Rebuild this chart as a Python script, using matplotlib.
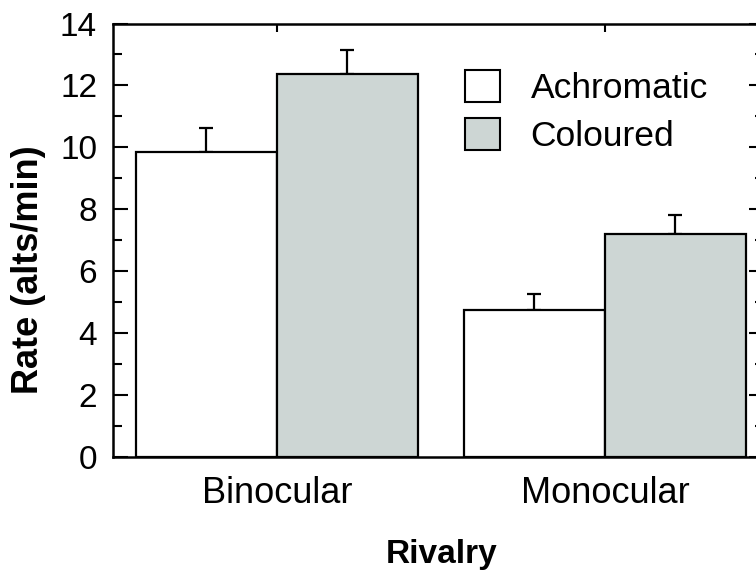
import matplotlib
matplotlib.use("Agg")
import matplotlib.pyplot as plt
import numpy as np
from matplotlib.ticker import MultipleLocator

plt.rcParams['font.family'] = ['Liberation Sans', 'DejaVu Sans']

groups = ["Binocular", "Monocular"]
series = ["Achromatic", "Coloured"]
achromatic = [9.85, 4.75]
achromatic_err = [0.76, 0.52]
coloured = [12.37, 7.21]
coloured_err = [0.79, 0.59]
yticks = [0, 2, 4, 6, 8, 10, 12, 14]

fig = plt.figure(figsize=(7.56, 5.74), dpi=100)
ax = fig.add_axes([113/756, 1-457/574, (764-113)/756, (457-23.5)/574])

x = np.arange(len(groups))
w = 0.43
ax.bar(x - w/2, achromatic, w, color='white', edgecolor='black', linewidth=1.6,
       label=series[0], zorder=2)
ax.bar(x + w/2, coloured, w, color='#cdd6d4', edgecolor='black', linewidth=1.6,
       label=series[1], zorder=2)
ax.errorbar(x - w/2, achromatic, yerr=[np.zeros(2), achromatic_err], fmt='none',
            ecolor='black', elinewidth=1.6, capsize=5, capthick=1.6, zorder=1)
ax.errorbar(x + w/2, coloured, yerr=[np.zeros(2), coloured_err], fmt='none',
            ecolor='black', elinewidth=1.6, capsize=5, capthick=1.6, zorder=1)

ax.set_xlim(-0.5, 1.485)
ax.set_ylim(0, 14)
ax.set_yticks(yticks)
ax.yaxis.set_minor_locator(MultipleLocator(1))
ax.set_xticks(x)
ax.set_xticklabels(groups, fontsize=26)
ax.tick_params(axis='y', which='major', direction='in', length=11, width=1.5,
               labelsize=24, pad=11.5, left=True, right=True)
ax.tick_params(axis='y', which='minor', direction='in', length=6.5, width=1.5,
               left=True, right=True)
ax.tick_params(axis='x', which='major', direction='in', length=6, width=1.5,
               bottom=False, top=True, pad=14)
for s in ax.spines.values():
    s.set_linewidth(1.8)

leg = ax.legend(loc='upper left', bbox_to_anchor=(465/756, 1-70/574),
                bbox_transform=fig.transFigure, frameon=False, fontsize=25.5,
                handlelength=1.0, handleheight=1.0, handletextpad=0.85,
                labelspacing=0.38, borderpad=0, borderaxespad=0)
for p in leg.get_patches():
    p.set_linewidth(1.5)

fig.text(29/756, 1-270/574, "Rate (alts/min)", rotation=90, fontsize=26,
         fontweight='bold', ha='center', va='center')
fig.text(442/756, 1-555/574, "Rivalry", fontsize=24, fontweight='bold',
         ha='center', va='center')

fig.savefig("out.png", dpi=100)
